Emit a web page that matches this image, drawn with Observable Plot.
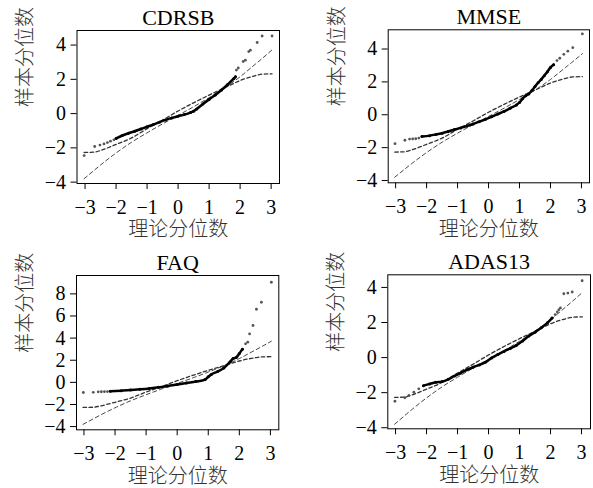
<!DOCTYPE html>
<html>
<head>
<meta charset="utf-8">
<script src="https://cdn.jsdelivr.net/npm/d3@7"></script>
<script src="https://cdn.jsdelivr.net/npm/@observablehq/plot@0.6"></script>
<style>
  html, body { margin: 0; padding: 0; background: #fff; }
  #chart { position: relative; width: 593px; height: 488px; background: #fff; overflow: hidden; }
  #chart svg { position: absolute; }
</style>
</head>
<body>
<div id="chart"></div>
<script>
// ---- data ----
const panelTitles = ["CDRSB", "MMSE", "FAQ", "ADAS13"];
const xTicks = [-3, -2, -1, 0, 1, 2, 3];
const yTicksCommon = [-4, -2, 0, 2, 4];
const yTicksFAQ = [-4, -2, 0, 2, 4, 6, 8];
const xLabel = "理论分位数";
const yLabel = "样本分位数";

// two dashed reference curves (same in every panel)
const refX  = [-3.03, -2.7, -2.5, -2.0, -1.5, -1.0, -0.5, 0.0, 0.5, 1.0, 1.5, 2.0, 2.5, 2.7, 3.03];
const lineA = [-3.8, -3.3, -3.0, -2.3, -1.67, -1.12, -0.6, -0.1, 0.4, 0.93, 1.5, 2.15, 2.9, 3.2, 3.72];
const lineB = [-2.27, -2.25, -2.15, -1.8, -1.42, -0.88, -0.38, 0.15, 0.63, 1.08, 1.5, 1.93, 2.22, 2.3, 2.32];

// CDRSB
const cdrsbTailX = [-3.03, -2.69, -2.52, -2.39, -2.28, -2.18, -2.07, 1.88, 1.94, 2.10, 2.17, 2.28, 2.33, 2.55, 2.71, 3.03];
const cdrsbTailY = [-2.45, -1.92, -1.84, -1.77, -1.69, -1.61, -1.53, 2.54, 2.66, 3.04, 3.12, 3.62, 3.70, 4.15, 4.53, 4.53];
const cdrsbDenseX = [-2.0, -1.8, -1.6, -1.4, -1.2, -1.0, -0.8, -0.6, -0.4, -0.2, 0.0, 0.2, 0.4, 0.5, 0.6, 0.8, 1.0, 1.2, 1.4, 1.6, 1.8, 1.85];
const cdrsbDenseY = [-1.45, -1.28, -1.15, -1.03, -0.9, -0.77, -0.64, -0.5, -0.37, -0.25, -0.15, -0.06, 0.06, 0.14, 0.27, 0.56, 0.83, 1.09, 1.38, 1.7, 2.05, 2.15];

// MMSE
const mmseTailX = [-3.02, -2.7, -2.55, -2.45, -2.35, -2.25, 2.21, 2.30, 2.43, 2.56, 2.72, 3.03];
const mmseTailY = [-1.76, -1.55, -1.48, -1.47, -1.46, -1.42, 3.30, 3.44, 3.68, 3.87, 4.08, 4.92];
const mmseDenseX = [-2.15, -1.9, -1.7, -1.5, -1.3, -1.1, -0.9, -0.7, -0.5, -0.3, -0.1, 0.1, 0.3, 0.5, 0.7, 0.9, 1.0, 1.1, 1.2, 1.3, 1.4, 1.5, 1.6, 1.7, 1.8, 1.9, 2.0, 2.1];
const mmseDenseY = [-1.32, -1.27, -1.2, -1.12, -1.02, -0.9, -0.8, -0.69, -0.56, -0.42, -0.28, -0.12, 0.04, 0.2, 0.4, 0.6, 0.75, 0.98, 1.15, 1.27, 1.48, 1.72, 1.95, 2.15, 2.38, 2.62, 2.88, 3.05];

// FAQ
const faqTailX = [-3.02, -2.7, -2.54, -2.44, -2.34, -2.24, 2.2, 2.27, 2.33, 2.44, 2.55, 2.71, 3.03];
const faqTailY = [-0.92, -0.9, -0.86, -0.85, -0.84, -0.83, 3.48, 3.63, 4.38, 5.14, 6.61, 7.24, 9.05];
const faqDenseX = [-2.15, -1.8, -1.5, -1.2, -0.9, -0.6, -0.3, 0.0, 0.3, 0.6, 0.9, 1.0, 1.1, 1.3, 1.5, 1.7, 1.8, 1.9, 2.0, 2.1];
const faqDenseY = [-0.8, -0.75, -0.7, -0.63, -0.55, -0.45, -0.34, -0.2, -0.06, 0.07, 0.25, 0.5, 0.72, 0.97, 1.3, 1.85, 2.15, 2.25, 2.6, 3.0];

// ADAS13
const adasTailX = [-3.02, -2.7, -2.57, -2.41, -2.25, 2.15, 2.22, 2.27, 2.32, 2.43, 2.56, 2.7, 3.02];
const adasTailY = [-2.49, -2.29, -2.16, -1.97, -1.78, 2.45, 2.6, 2.73, 2.83, 3.64, 3.68, 3.74, 4.38];
const adasDenseX = [-2.1, -1.9, -1.7, -1.5, -1.3, -1.1, -0.9, -0.7, -0.5, -0.3, -0.1, 0.1, 0.3, 0.5, 0.7, 0.9, 1.1, 1.3, 1.5, 1.7, 1.9, 2.05];
const adasDenseY = [-1.6, -1.5, -1.41, -1.37, -1.24, -1.05, -0.88, -0.7, -0.55, -0.42, -0.26, -0.02, 0.17, 0.35, 0.52, 0.7, 0.95, 1.23, 1.45, 1.7, 1.98, 2.25];

// ---- helpers ----
const zip = (xs, ys) => xs.map((x, i) => ({x, y: ys[i]}));
const refData = refX.map((x, i) => ({x, a: lineA[i], b: lineB[i]}));
const SERIF = "'Liberation Serif', 'DejaVu Serif', serif";
const CJK = "'Noto Sans CJK SC', sans-serif";
const fmt = d => (d < 0 ? "\u2212" + Math.abs(d) : String(d));

const panels = [
  {title: panelTitles[0], left: 0,   top: 0,   w: 296, h: 244, box: [76.5, 279, 30, 183],   xd: [-3.26, 3.27], yd: [-4.08, 4.85], yt: yTicksCommon, tail: zip(cdrsbTailX, cdrsbTailY), dense: zip(cdrsbDenseX, cdrsbDenseY)},
  {title: panelTitles[1], left: 296, top: 0,   w: 297, h: 244, box: [91.7, 293, 29.3, 182.3], xd: [-3.24, 3.26], yd: [-4.14, 5.17], yt: yTicksCommon, tail: zip(mmseTailX, mmseTailY), dense: zip(mmseDenseX, mmseDenseY)},
  {title: panelTitles[2], left: 0,   top: 244, w: 296, h: 244, box: [76, 278.3, 31, 185.3],  xd: [-3.24, 3.27], yd: [-4.29, 9.66], yt: yTicksFAQ,    tail: zip(faqTailX, faqTailY),     dense: zip(faqDenseX, faqDenseY)},
  {title: panelTitles[3], left: 296, top: 244, w: 297, h: 244, box: [91.3, 294, 30.3, 184.3], xd: [-3.25, 3.29], yd: [-4.06, 4.72], yt: yTicksCommon, tail: zip(adasTailX, adasTailY),   dense: zip(adasDenseX, adasDenseY)}
];

const chart = document.getElementById("chart");
for (const p of panels) {
  const [bx0, bx1, by0, by1] = p.box;
  const svg = Plot.plot({
    width: p.w,
    height: p.h,
    marginLeft: bx0,
    marginRight: p.w - bx1,
    marginTop: by0,
    marginBottom: p.h - by1,
    x: {domain: p.xd},
    y: {domain: p.yd},
    style: {fontFamily: SERIF, fontSize: "20px", color: "black", background: "white", overflow: "visible"},
    marks: [
      Plot.axisX({ticks: xTicks, tickFormat: fmt, tickSize: 6, tickPadding: 10, label: null, fontSize: 20, strokeWidth: 1}),
      Plot.axisY({ticks: p.yt, tickFormat: fmt, tickSize: 6, tickPadding: 5, label: null, fontSize: 20, strokeWidth: 1}),
      Plot.line(refData, {x: "x", y: "a", stroke: "#333", strokeWidth: 0.9, strokeDasharray: "4,3", curve: "monotone-x"}),
      Plot.line(refData, {x: "x", y: "b", stroke: "#333", strokeWidth: 1.3, strokeDasharray: "3.5,2.5", curve: "monotone-x"}),
      Plot.line(p.dense, {x: "x", y: "y", stroke: "#000", strokeWidth: 2.5, curve: "monotone-x"}),
      Plot.dot(p.dense, {x: "x", y: "y", r: 1.5, fill: "#000"}),
      Plot.dot(p.tail, {x: "x", y: "y", r: 1.4, fill: "#555"}),
      Plot.frame({stroke: "#000", strokeWidth: 1}),
      Plot.text([p.title], {text: d => d, frameAnchor: "top", dy: -13, lineAnchor: "middle", fontSize: 22, fontFamily: SERIF, fill: "#000"}),
      Plot.text([xLabel], {text: d => d, frameAnchor: "bottom", dy: 46.5, lineAnchor: "middle", fontSize: 20, fontFamily: CJK, fontWeight: 300, fill: "#333"}),
      Plot.text([yLabel], {text: d => d, frameAnchor: "left", dx: -51, rotate: -90, lineAnchor: "middle", fontSize: 20, fontFamily: CJK, fontWeight: 300, fill: "#333"})
    ]
  });
  svg.style.left = p.left + "px";
  svg.style.top = p.top + "px";
  chart.appendChild(svg);
}
</script>
</body>
</html>
